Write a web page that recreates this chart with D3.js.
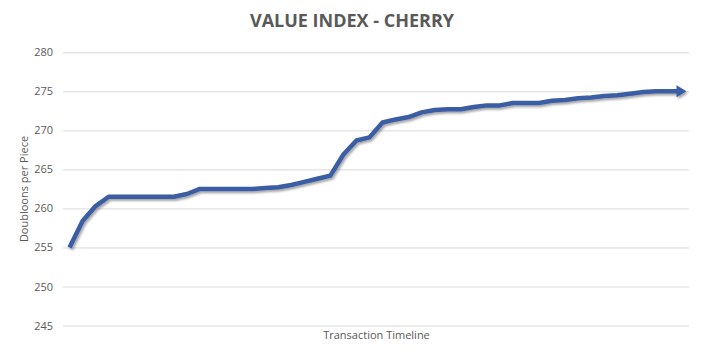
<!DOCTYPE html>
<html>
<head>
<meta charset="utf-8">
<script src="https://cdn.jsdelivr.net/npm/d3@7"></script>
<style>
html,body{margin:0;padding:0;background:#fff;}
svg{display:block;}
</style>
</head>
<body>
<svg id="chart" width="705" height="359"></svg>
<script>
const title = "VALUE INDEX - CHERRY";
const yTitle = "Doubloons per Piece";
const xTitle = "Transaction Timeline";
const yTicks = [245, 250, 255, 260, 265, 270, 275, 280];
const categories = d3.range(1, 49);
const values = [
  255.0, 258.4, 260.3, 261.5, 261.5, 261.5, 261.5, 261.5, 261.5, 261.85,
  262.5, 262.5, 262.5, 262.5, 262.5, 262.6, 262.7, 263.0, 263.4, 263.8,
  264.2, 266.9, 268.7, 269.1, 271.0, 271.4, 271.7, 272.3, 272.6, 272.7,
  272.7, 273.0, 273.2, 273.2, 273.5, 273.5, 273.5, 273.8, 273.9, 274.1,
  274.2, 274.4, 274.5, 274.7, 274.9, 275.0, 275.0, 275.0
];

const svg = d3.select("#chart");
const mLeft = 63, mRight = 689, mTop = 52.3, mBottom = 325.5;

const x = d3.scalePoint().domain(categories).range([mLeft, mRight]).padding(0.5);
const y = d3.scaleLinear().domain([245, 280]).range([mBottom, mTop]);

const defs = svg.append("defs");
const f = defs.append("filter").attr("id", "shadow").attr("x", "-5%").attr("y", "-20%").attr("width", "110%").attr("height", "140%");
f.append("feDropShadow").attr("dx", 1.5).attr("dy", 2).attr("stdDeviation", 1.3)
  .attr("flood-color", "#000").attr("flood-opacity", 0.35);
defs.append("marker").attr("id", "arrow")
  .attr("markerUnits", "userSpaceOnUse")
  .attr("viewBox", "0 0 10 12").attr("refX", 6).attr("refY", 6)
  .attr("markerWidth", 10).attr("markerHeight", 12).attr("orient", "auto")
  .append("path").attr("d", "M0,0 L10,6 L0,12 Z").attr("fill", "#3A5DA3");

// gridlines
const yAxis = d3.axisLeft(y).tickValues(yTicks).tickSize(-(mRight - mLeft)).tickPadding(10);
const ga = svg.append("g").attr("transform", `translate(${mLeft},0)`).call(yAxis);
ga.select(".domain").remove();
ga.selectAll(".tick line").attr("stroke", "#d9d9d9").attr("stroke-width", 1);
ga.selectAll(".tick text").attr("fill", "#595959").style("font-family", "'Open Sans', sans-serif").style("font-size", "11px");

// line
const line = d3.line().x((d, i) => x(categories[i])).y(d => y(d)).curve(d3.curveLinear);
svg.append("path").datum(values)
  .attr("d", line)
  .attr("fill", "none")
  .attr("stroke", "#3A5DA3")
  .attr("stroke-width", 4.5)
  .attr("stroke-linejoin", "round")
  .attr("stroke-linecap", "butt")
  .attr("marker-end", "url(#arrow)")
  .attr("filter", "url(#shadow)");

// titles
svg.append("text").attr("x", 352).attr("y", 27).attr("text-anchor", "middle")
  .attr("fill", "#595959").style("font-family", "'Liberation Sans Narrow', 'Open Sans', sans-serif")
  .style("font-weight", "bold").style("font-size", "18px").text(title);
svg.append("text").attr("transform", "translate(28,189) rotate(-90)").attr("text-anchor", "middle")
  .attr("fill", "#595959").style("font-family", "'Open Sans', sans-serif").style("font-size", "11px").text(yTitle);
svg.append("text").attr("x", 376.5).attr("y", 339).attr("text-anchor", "middle")
  .attr("fill", "#595959").style("font-family", "'Open Sans', sans-serif").style("font-size", "11px").text(xTitle);
</script>
</body>
</html>
